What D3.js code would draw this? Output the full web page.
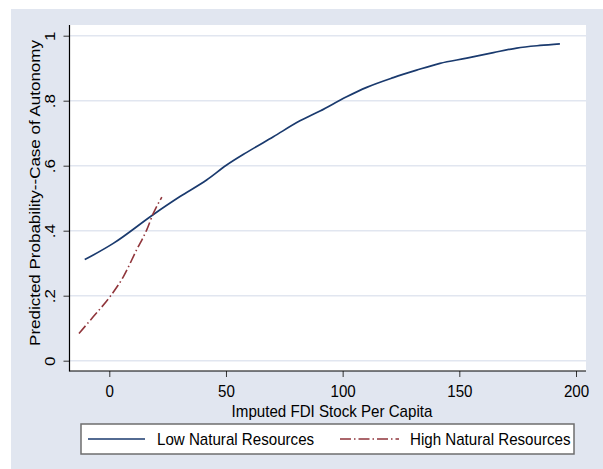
<!DOCTYPE html>
<html lang="en">
<head>
    <meta charset="UTF-8">
    <title>Predicted Probability of Autonomy</title>
    <script src="https://d3js.org/d3.v7.min.js"></script>
</head>
<body style="margin:0; background:#fff;">

<style>
    svg {
        font-family: "Liberation Sans", Arial, sans-serif;
    }
    .grid line {
        stroke: #e1e6f0;
        stroke-width: 1.6;
    }
</style>

<div id="chart"></div>

<script>

    // data
    var fdiLow = [-10.5, 1.7, 18.9, 30.3, 41.7, 50.3, 58.9, 70.3, 81.7, 90.3, 101.7, 110.3, 121.7, 131.7, 141.7, 153.2, 164.6, 174.6, 184.6, 193.1];
    var probLow = [0.311, 0.361, 0.450, 0.505, 0.556, 0.602, 0.641, 0.689, 0.738, 0.768, 0.812, 0.841, 0.871, 0.894, 0.915, 0.931, 0.948, 0.962, 0.970, 0.975];

    var fdiHigh = [-13.0, -6.9, 0.3, 6.0, 11.7, 16.0, 18.9, 22.5];
    var probHigh = [0.084, 0.135, 0.197, 0.258, 0.341, 0.402, 0.454, 0.503];

    var xTicks = [0, 50, 100, 150, 200];
    var yTicks = [0, 0.2, 0.4, 0.6, 0.8, 1];
    var seriesNames = ["Low Natural Resources", "High Natural Resources"];

    var W = 603, H = 469;
    // plot region in pixels
    var plot = {left: 69.5, right: 586, top: 25, bottom: 371};
    // the text in the picture is a bit squeezed sideways
    var FS = 17, SX = 0.89;

    var svg = d3.select("#chart").append("svg")
        .attr("width", W)
        .attr("height", H);

    // outer graph region
    svg.append("rect")
        .attr("x", 11).attr("y", 9)
        .attr("width", W - 11).attr("height", H - 9)
        .attr("fill", "#e1e6f0");

    svg.append("rect")
        .attr("x", plot.left).attr("y", plot.top)
        .attr("width", plot.right - plot.left).attr("height", plot.bottom - plot.top)
        .attr("fill", "#fff");

    var x = d3.scaleLinear().domain([0, 200]).range([109.3, 576]);
    var y = d3.scaleLinear().domain([0, 1]).range([360.7, 35.7]);

    // gridlines
    svg.append("g").attr("class", "grid")
        .selectAll("line")
        .data(yTicks).enter()
        .append("line")
        .attr("x1", plot.left).attr("x2", plot.right)
        .attr("y1", function(d) { return y(d); })
        .attr("y2", function(d) { return y(d); });

    // y axis
    var yAxis = svg.append("g")
        .attr("transform", "translate(" + plot.left + ",0)")
        .call(d3.axisLeft(y).tickValues(yTicks).tickSize(6).tickFormat(function(d) {
            if (d === 0 || d === 1) return String(d);
            return d3.format(".1f")(d).replace(/^0/, "");
        }));
    yAxis.select(".domain").remove();
    yAxis.selectAll(".tick line").attr("stroke", "#333").attr("stroke-width", 1);
    yAxis.selectAll(".tick text")
        .attr("x", null).attr("dy", null)
        .attr("transform", "translate(-14.5,0) scale(" + SX + ",1) rotate(-90)")
        .attr("text-anchor", "middle")
        .style("font-size", FS + "px")
        .attr("fill", "#000");

    // x axis
    var xAxis = svg.append("g")
        .attr("transform", "translate(0," + plot.bottom + ")")
        .call(d3.axisBottom(x).tickValues(xTicks).tickSize(6).tickFormat(d3.format("d")));
    xAxis.select(".domain").remove();
    xAxis.selectAll(".tick line").attr("stroke", "#333").attr("stroke-width", 1);
    xAxis.selectAll(".tick text")
        .attr("y", null).attr("dy", null)
        .attr("transform", "translate(0,25.5) scale(" + SX + ",1)")
        .style("font-size", FS + "px")
        .attr("fill", "#000");

    // axis lines (left and bottom only)
    svg.append("line")
        .attr("x1", plot.left).attr("x2", plot.left)
        .attr("y1", plot.top).attr("y2", plot.bottom + 0.5)
        .attr("stroke", "#000").attr("stroke-width", 1.2);
    svg.append("line")
        .attr("x1", plot.left).attr("x2", plot.right)
        .attr("y1", plot.bottom).attr("y2", plot.bottom)
        .attr("stroke", "#000").attr("stroke-width", 1.2);

    // axis titles
    svg.append("text")
        .attr("transform", "translate(" + 332 + ",417) scale(" + SX + ",1)")
        .attr("text-anchor", "middle")
        .style("font-size", FS + "px")
        .text("Imputed FDI Stock Per Capita");

    svg.append("text")
        .attr("transform", "translate(39.5,193) scale(" + SX + ",1) rotate(-90)")
        .attr("text-anchor", "middle")
        .style("font-size", FS + "px")
        .text("Predicted Probability--Case of Autonomy");

    // the lines
    var line = d3.line()
        .curve(d3.curveMonotoneX)
        .x(function(d) { return x(d[0]); })
        .y(function(d) { return y(d[1]); });

    svg.append("path")
        .datum(d3.zip(fdiLow, probLow))
        .attr("d", line)
        .attr("fill", "none")
        .attr("stroke", "#1a3a6e")
        .attr("stroke-width", 1.7);

    svg.append("path")
        .datum(d3.zip(fdiHigh, probHigh))
        .attr("d", line)
        .attr("fill", "none")
        .attr("stroke", "#90353b")
        .attr("stroke-width", 1.6)
        .attr("stroke-dasharray", "10,3,1.5,3");

    // legend
    var legend = svg.append("g");
    legend.append("rect")
        .attr("x", 81).attr("y", 424)
        .attr("width", 493).attr("height", 30)
        .attr("fill", "#fff")
        .attr("stroke", "#6e6e6e")
        .attr("stroke-width", 1.5);

    var legendItems = [
        {name: seriesNames[0], x0: 88, x1: 145, tx: 157, color: "#1a3a6e", dash: null},
        {name: seriesNames[1], x0: 340, x1: 399, tx: 410, color: "#90353b", dash: "11,3,1.5,3"}
    ];
    legendItems.forEach(function(d) {
        legend.append("line")
            .attr("x1", d.x0).attr("x2", d.x1)
            .attr("y1", 439).attr("y2", 439)
            .attr("stroke", d.color)
            .attr("stroke-width", 1.6)
            .attr("stroke-dasharray", d.dash);
        legend.append("text")
            .attr("transform", "translate(" + d.tx + ",445) scale(" + SX + ",1)")
            .style("font-size", FS + "px")
            .text(d.name);
    });

</script>

</body>
</html>
